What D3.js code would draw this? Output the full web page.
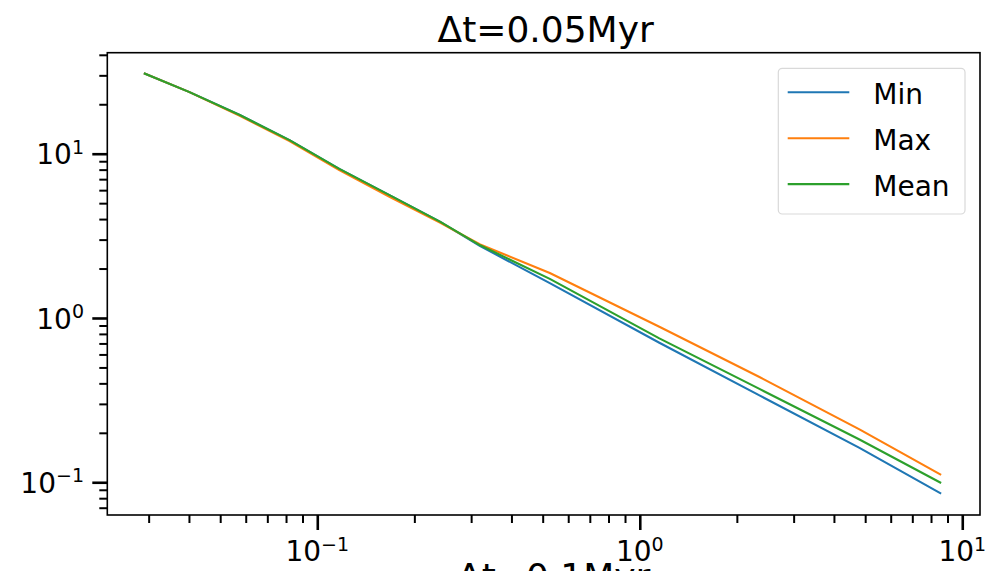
<!DOCTYPE html>
<html>
<head>
<meta charset="utf-8">
<script src="https://cdn.jsdelivr.net/npm/d3@7"></script>
<style>
  html, body { margin: 0; padding: 0; background: #fff; }
  svg { display: block; font-family: "DejaVu Sans", sans-serif; }
</style>
</head>
<body>
<svg id="chart" width="991" height="571"></svg>
<script>
// Time-step samples (x) and the three summary series (y), log-log
const xValues   = [0.029, 0.040, 0.0575, 0.082, 0.117, 0.168, 0.24, 0.32, 0.526, 1.15, 2.35, 4.8, 8.6];
const minValues = [30.9, 23.8, 17.2, 12.1, 8.08, 5.58, 3.86, 2.74, 1.63, 0.707, 0.338, 0.162, 0.0852];
const maxValues = [30.9, 23.8, 17.0, 11.95, 7.96, 5.45, 3.81, 2.80, 1.88, 0.885, 0.437, 0.210, 0.111];
const meanValues= [30.9, 23.8, 17.2, 12.1, 8.08, 5.58, 3.86, 2.77, 1.73, 0.752, 0.370, 0.182, 0.099];

const seriesNames  = ["Min", "Max", "Mean"];
const seriesColors = ["#1f77b4", "#ff7f0e", "#2ca02c"];
const seriesValues = [minValues, maxValues, meanValues];

const xMajorExps = [-1, 0, 1];
const yMajorExps = [-1, 0, 1];

const titleText = "Δt=0.05Myr";
const nextTitleText = "Δt=0.1Myr";

const svg = d3.select("#chart");
const plot = { left: 107.3, right: 980, top: 52.7, bottom: 515 };

const x = d3.scaleLog().domain([0.02233, 11.35]).range([plot.left, plot.right]);
const y = d3.scaleLog().domain([0.0632, 41.2]).range([plot.bottom, plot.top]);

// minor tick positions: 2..9 within each decade inside the domain
function minorTicks(scale) {
  const [a, b] = scale.domain();
  const out = [];
  for (let e = Math.floor(Math.log10(a)); e <= Math.ceil(Math.log10(b)); e++) {
    for (let m = 2; m <= 9; m++) {
      const v = m * Math.pow(10, e);
      if (v >= a && v <= b) out.push(v);
    }
  }
  return out;
}

// lines
const line = d3.line().x((d, i) => x(xValues[i])).y(d => y(d));
const lines = svg.append("g");
seriesValues.forEach((vals, i) => {
  lines.append("path")
    .datum(vals)
    .attr("d", line)
    .attr("fill", "none")
    .attr("stroke", seriesColors[i])
    .attr("stroke-width", 2.1)
    .attr("stroke-linejoin", "round");
});

// axes: minor ticks
svg.append("g")
  .attr("transform", `translate(0,${plot.bottom})`)
  .call(d3.axisBottom(x).tickValues(minorTicks(x)).tickSize(8).tickSizeOuter(0).tickFormat(""))
  .call(g => g.select(".domain").remove())
  .call(g => g.selectAll("line").attr("stroke", "#000").attr("stroke-width", 2));

svg.append("g")
  .attr("transform", `translate(${plot.left},0)`)
  .call(d3.axisLeft(y).tickValues(minorTicks(y)).tickSize(8).tickSizeOuter(0).tickFormat(""))
  .call(g => g.select(".domain").remove())
  .call(g => g.selectAll("line").attr("stroke", "#000").attr("stroke-width", 2));

// axes: major ticks
svg.append("g")
  .attr("transform", `translate(0,${plot.bottom})`)
  .call(d3.axisBottom(x).tickValues(xMajorExps.map(e => Math.pow(10, e))).tickSize(15).tickSizeOuter(0).tickFormat(""))
  .call(g => g.select(".domain").remove())
  .call(g => g.selectAll("line").attr("stroke", "#000").attr("stroke-width", 2.6));

svg.append("g")
  .attr("transform", `translate(${plot.left},0)`)
  .call(d3.axisLeft(y).tickValues(yMajorExps.map(e => Math.pow(10, e))).tickSize(15).tickSizeOuter(0).tickFormat(""))
  .call(g => g.select(".domain").remove())
  .call(g => g.selectAll("line").attr("stroke", "#000").attr("stroke-width", 2.6));

// frame
svg.append("rect")
  .attr("x", plot.left).attr("y", plot.top)
  .attr("width", plot.right - plot.left).attr("height", plot.bottom - plot.top)
  .attr("fill", "none").attr("stroke", "#000").attr("stroke-width", 1.6);

// power-of-ten labels
function powLabel(g, exp) {
  g.append("tspan").text("10");
  g.append("tspan")
    .attr("dy", -10.5)
    .attr("font-size", 19)
    .text(exp < 0 ? "\u2212" + Math.abs(exp) : String(exp));
}

xMajorExps.forEach(e => {
  const t = svg.append("text")
    .attr("x", x(Math.pow(10, e)))
    .attr("y", 561)
    .attr("text-anchor", "middle")
    .attr("font-size", 28)
    .attr("fill", "#000");
  powLabel(t, e);
});

yMajorExps.forEach(e => {
  const t = svg.append("text")
    .attr("x", 84)
    .attr("y", y(Math.pow(10, e)) + 10.7)
    .attr("text-anchor", "end")
    .attr("font-size", 28)
    .attr("fill", "#000");
  powLabel(t, e);
});

// title
svg.append("text")
  .attr("x", (plot.left + plot.right) / 2 + 2)
  .attr("y", 41.5)
  .attr("text-anchor", "middle")
  .attr("font-size", 36)
  .attr("fill", "#000")
  .text(titleText);

// the panel below starts here; its title is cut by the page edge
svg.append("text")
  .attr("x", 457)
  .attr("y", 589)
  .attr("text-anchor", "start")
  .attr("font-size", 36)
  .attr("fill", "#000")
  .text(nextTitleText);

// legend
const legend = svg.append("g");
legend.append("rect")
  .attr("x", 778.3).attr("y", 68.3)
  .attr("width", 965 - 778.3).attr("height", 214 - 68.3)
  .attr("rx", 4).attr("ry", 4)
  .attr("fill", "#fff").attr("fill-opacity", 0.8)
  .attr("stroke", "#d9d9d9").attr("stroke-width", 1.2);

seriesNames.forEach((name, i) => {
  const ly = 92.3 + i * 45.9;
  legend.append("line")
    .attr("x1", 787.7).attr("x2", 849.3)
    .attr("y1", ly).attr("y2", ly)
    .attr("stroke", seriesColors[i]).attr("stroke-width", 2.1);
  legend.append("text")
    .attr("x", 873.3)
    .attr("y", 104 + i * 45.9)
    .attr("font-size", 28)
    .attr("fill", "#000")
    .text(name);
});
</script>
</body>
</html>
